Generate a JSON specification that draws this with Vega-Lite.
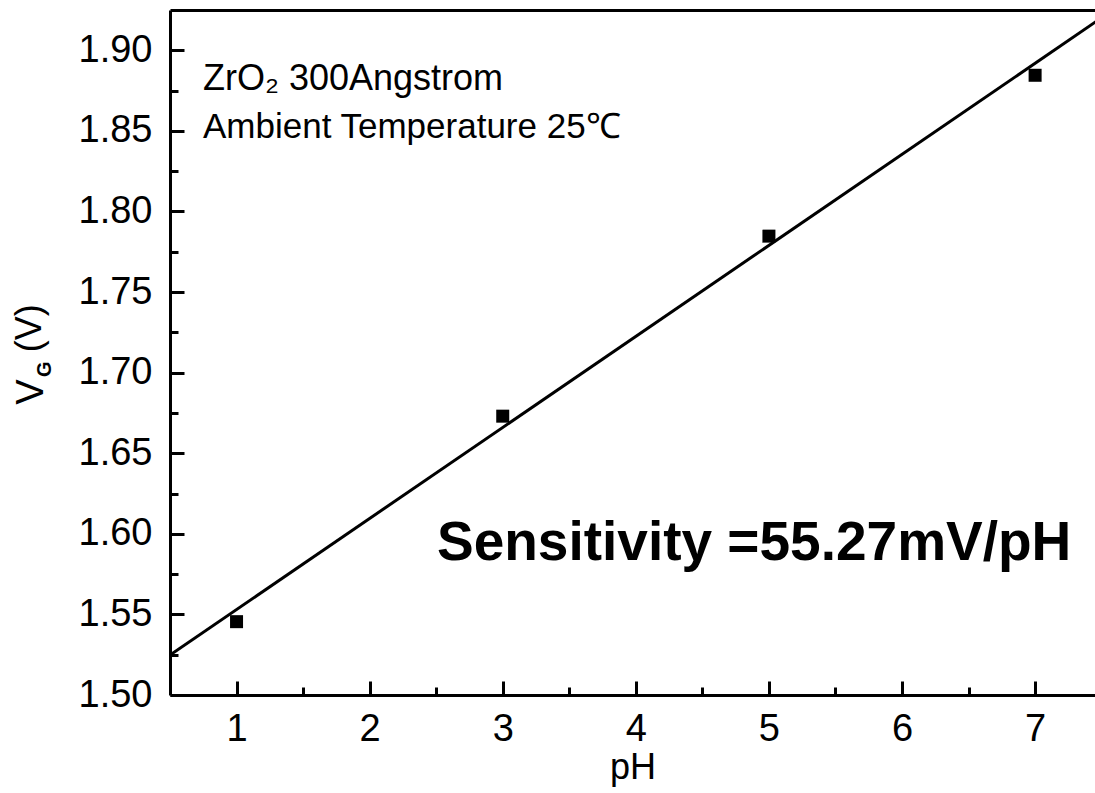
{
  "$schema": "https://vega.github.io/schema/vega-lite/v6.json",
  "autosize": {"type": "none"},
  "padding": {"left": 170, "top": 10, "right": 0, "bottom": 98},
  "width": 925,
  "height": 685,
  "background": "white",
  "config": {
    "view": {"stroke": null},
    "font": "Liberation Sans",
    "axis": {
      "domainColor": "black",
      "domainWidth": 3,
      "tickColor": "black",
      "tickWidth": 3,
      "labelColor": "black",
      "labelFont": "Liberation Sans",
      "titleFont": "Liberation Sans",
      "titleColor": "black",
      "grid": false
    }
  },
  "datasets": {
    "points": [
      {"pH": 1, "VG": 1.5455},
      {"pH": 3, "VG": 1.673},
      {"pH": 5, "VG": 1.7847},
      {"pH": 7, "VG": 1.8845}
    ],
    "fit": [
      {"pH": 0.5, "VG": 1.5248},
      {"pH": 7.5, "VG": 1.9202}
    ],
    "notes": [
      {"line1": "ZrO₂ 300Angstrom", "line2": "Ambient Temperature 25℃", "sens": "Sensitivity =55.27mV/pH",
       "ysym": "V", "ysub": "G", "yunit": "(V)"}
    ]
  },
  "resolve": {"axis": {"x": "independent", "y": "independent"}},
  "layer": [
    {
      "data": {"name": "fit"},
      "mark": {"type": "line", "color": "black", "strokeWidth": 3, "clip": true},
      "encoding": {
        "x": {"field": "pH", "type": "quantitative",
              "scale": {"domain": [0.5, 7.45], "nice": false, "zero": false},
              "axis": {"orient": "bottom", "domain": false, "labels": false, "title": null, "tickSize": -8,
                       "values": [1.5, 2.5, 3.5, 4.5, 5.5, 6.5]}},
        "y": {"field": "VG", "type": "quantitative",
              "scale": {"domain": [1.5, 1.925], "nice": false, "zero": false},
              "axis": {"orient": "left", "domain": false, "labels": false, "title": null, "tickSize": -8,
                       "values": [1.525, 1.575, 1.625, 1.675, 1.725, 1.775, 1.825, 1.875]}}
      }
    },
    {
      "data": {"name": "points"},
      "mark": {"type": "point", "shape": "square", "filled": true, "color": "black", "opacity": 1, "size": 169},
      "encoding": {
        "x": {"field": "pH", "type": "quantitative",
              "axis": {"orient": "bottom", "values": [1, 2, 3, 4, 5, 6, 7], "tickSize": -14,
                       "labelFontSize": 38, "labelPadding": 29, "format": "d",
                       "title": "pH", "titleFontSize": 36, "titleFontWeight": "normal", "titlePadding": 2}},
        "y": {"field": "VG", "type": "quantitative",
              "axis": {"orient": "left", "values": [1.5, 1.55, 1.6, 1.65, 1.7, 1.75, 1.8, 1.85, 1.9], "tickSize": -14,
                       "labelFontSize": 38, "labelPadding": 32, "format": ".2f", "title": null}}
      }
    },
    {
      "data": {"name": "notes"},
      "mark": {"type": "text", "align": "left", "baseline": "alphabetic", "fontSize": 36, "color": "black"},
      "encoding": {
        "text": {"field": "line1"},
        "x": {"datum": 0.748, "type": "quantitative",
              "axis": {"orient": "top", "domain": true, "ticks": false, "labels": false, "title": null}},
        "y": {"datum": 1.8752, "type": "quantitative", "axis": null}
      }
    },
    {
      "data": {"name": "notes"},
      "mark": {"type": "text", "align": "left", "baseline": "alphabetic", "fontSize": 35, "color": "black"},
      "encoding": {
        "text": {"field": "line2"},
        "x": {"datum": 0.748, "type": "quantitative", "axis": null},
        "y": {"datum": 1.8454, "type": "quantitative", "axis": null}
      }
    },
    {
      "data": {"name": "notes"},
      "mark": {"type": "text", "align": "left", "baseline": "alphabetic", "fontSize": 55, "fontWeight": "bold", "color": "black"},
      "encoding": {
        "text": {"field": "sens"},
        "x": {"datum": 2.506, "type": "quantitative", "axis": null},
        "y": {"datum": 1.5837, "type": "quantitative", "axis": null}
      }
    },
    {
      "data": {"name": "notes"},
      "mark": {"type": "text", "align": "center", "baseline": "middle", "angle": 270, "fontSize": 38, "color": "black"},
      "encoding": {
        "text": {"field": "ysym"},
        "x": {"datum": -0.537, "type": "quantitative", "axis": null},
        "y": {"datum": 1.6879, "type": "quantitative", "axis": null}
      }
    },
    {
      "data": {"name": "notes"},
      "mark": {"type": "text", "align": "center", "baseline": "middle", "angle": 270, "fontSize": 20, "fontWeight": "bold", "color": "black"},
      "encoding": {
        "text": {"field": "ysub"},
        "x": {"datum": -0.439, "type": "quantitative", "axis": null},
        "y": {"datum": 1.7022, "type": "quantitative", "axis": null}
      }
    },
    {
      "data": {"name": "notes"},
      "mark": {"type": "text", "align": "center", "baseline": "middle", "angle": 270, "fontSize": 36, "color": "black"},
      "encoding": {
        "text": {"field": "yunit"},
        "x": {"datum": -0.552, "type": "quantitative", "axis": null},
        "y": {"datum": 1.7276, "type": "quantitative", "axis": null}
      }
    }
  ]
}
